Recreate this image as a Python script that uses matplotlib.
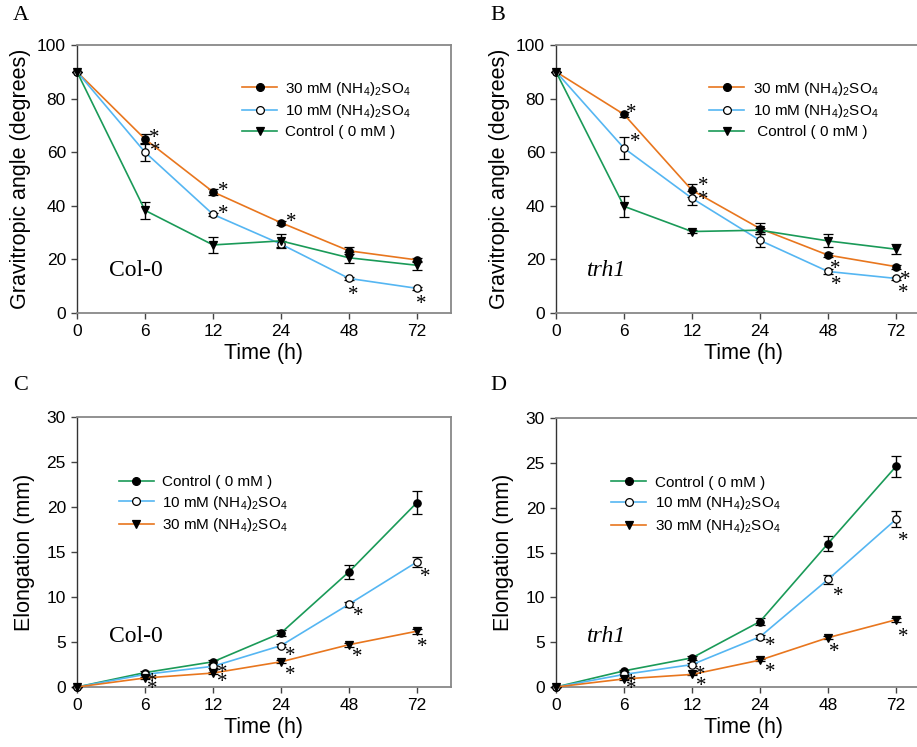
import matplotlib
matplotlib.use("Agg")
import matplotlib.pyplot as plt
from matplotlib.lines import Line2D

plt.rcParams['font.family'] = ['Liberation Sans', 'DejaVu Sans']
plt.rcParams['mathtext.fontset'] = 'custom'
plt.rcParams['mathtext.rm'] = 'Liberation Sans'
plt.rcParams['mathtext.it'] = 'Liberation Sans:italic'
plt.rcParams['mathtext.bf'] = 'Liberation Sans:bold'

# ---------------- data ----------------
time_labels = ['0', '6', '12', '24', '48', '72']
x_idx = list(range(len(time_labels)))

# Panel A: Col-0 gravitropic angle
A_30 = [90, 64.9, 45.2, 33.7, 23.2, 19.8]
A_30_err = [0, 2.0, 1.0, 0.8, 1.3, 0.8]
A_10 = [90, 60.0, 36.8, 25.7, 12.9, 9.2]
A_10_err = [0, 3.3, 0.6, 1.3, 0.5, 0.5]
A_ctrl = [90, 38.3, 25.4, 26.9, 20.6, 17.8]
A_ctrl_err = [0, 3.1, 3.0, 2.4, 2.0, 1.7]

# Panel B: trh1 gravitropic angle
B_30 = [90, 74.1, 45.8, 31.5, 21.6, 17.3]
B_30_err = [0, 1.0, 2.5, 2.2, 0.7, 0.7]
B_10 = [90, 61.5, 42.8, 27.1, 15.5, 12.9]
B_10_err = [0, 4.1, 2.6, 2.4, 1.0, 0.5]
B_ctrl = [90, 39.8, 30.4, 30.9, 26.9, 23.8]
B_ctrl_err = [0, 4.0, 0.7, 0.7, 2.4, 1.9]

# Panel C: Col-0 elongation
C_ctrl = [0, 1.6, 2.8, 6.0, 12.8, 20.5]
C_ctrl_err = [0, 0.15, 0.2, 0.35, 0.8, 1.25]
C_10 = [0, 1.4, 2.3, 4.6, 9.2, 13.9]
C_10_err = [0, 0.1, 0.15, 0.2, 0.3, 0.55]
C_30 = [0, 1.0, 1.55, 2.8, 4.7, 6.2]
C_30_err = [0, 0.1, 0.1, 0.15, 0.2, 0.3]

# Panel D: trh1 elongation
D_ctrl = [0, 1.8, 3.25, 7.3, 16.0, 24.6]
D_ctrl_err = [0, 0.15, 0.25, 0.4, 0.8, 1.2]
D_10 = [0, 1.4, 2.5, 5.6, 12.0, 18.7]
D_10_err = [0, 0.1, 0.15, 0.2, 0.5, 0.9]
D_30 = [0, 0.9, 1.4, 3.0, 5.5, 7.5]
D_30_err = [0, 0.1, 0.1, 0.15, 0.2, 0.25]

lab30 = r'30 mM (NH$_4$)$_2$SO$_4$'
lab10 = r'10 mM (NH$_4$)$_2$SO$_4$'
labctrl = 'Control ( 0 mM )'
labctrl_b = ' Control ( 0 mM )'

ORANGE = '#E8761E'
BLUE = '#55B6F2'
GREEN = '#1A9A58'

# asterisk offsets (series, x index, dx px, dy px)
stars_A = [('30', 1, 9.3, 6.7), ('10', 1, 10, 7), ('30', 2, 10, 6.3), ('10', 2, 10, 6),
           ('30', 3, 10, 5.7), ('10', 4, 4, -11.3), ('10', 5, 4, -10.7)]
stars_B = [('30', 1, 7.7, 7), ('10', 1, 11, 11.3), ('30', 2, 11, 10), ('10', 2, 11, 3.3),
           ('30', 4, 7.3, -8.3), ('10', 4, 8.3, -7.7), ('30', 5, 9.3, -7.7), ('10', 5, 7.7, -9)]
stars_C = [('10', 1, 7.7, -2), ('30', 1, 7.7, -5.7), ('10', 2, 9, -1), ('30', 2, 9, -4),
           ('10', 3, 9, -5), ('30', 3, 9, -7.3), ('10', 4, 9, -6), ('30', 4, 8.3, -6.7),
           ('10', 5, 8.3, -10), ('30', 5, 5, -10)]
stars_D = [('10', 1, 7.7, -3.3), ('30', 1, 7.7, -4.3), ('10', 2, 8.3, -5), ('30', 2, 9, -6),
           ('10', 3, 10, -4), ('30', 3, 10, -6.7), ('10', 4, 10.7, -10.7), ('30', 4, 6.3, -9),
           ('10', 5, 7.7, -16.7), ('30', 5, 7, -12.3)]

W, H = 917, 747
fig = plt.figure(figsize=(W / 100, H / 100), dpi=100)

def frac(left, top, right, bottom):
    return [left / W, 1 - bottom / H, (right - left) / W, (bottom - top) / H]

axA = fig.add_axes(frac(77, 45, 451, 313))
axB = fig.add_axes(frac(556, 45, 930, 313))
axC = fig.add_axes(frac(77, 417, 451, 687))
axD = fig.add_axes(frac(556, 418, 930, 687))

PX = 0.72  # points per pixel at 100 dpi
STAR_FS = 15
MS = {'o': 5.3, 'v': 5.8}

def style(ax, ylim, yticks, ylabel, labelpad):
    ax.set_xlim(0, 5.5)
    ax.set_ylim(*ylim)
    ax.set_xticks(x_idx)
    ax.set_xticklabels(time_labels)
    ax.set_yticks(yticks)
    ax.tick_params(direction='out', length=4, width=1, labelsize=12.5, pad=4, color='#444444')
    ax.set_xlabel('Time (h)', fontsize=15.5, labelpad=3)
    ax.set_ylabel(ylabel, fontsize=15.5, labelpad=labelpad)
    for s in ['top', 'right', 'bottom']:
        ax.spines[s].set_color('#888888')
        ax.spines[s].set_linewidth(1.3)
    ax.spines['left'].set_color('#333333')
    ax.spines['left'].set_linewidth(1.0)

def series(ax, y, err, color, marker, mfc, label):
    ax.errorbar(x_idx, y, yerr=err, color=color, lw=1.2, marker=marker, ms=MS[marker],
                mfc=mfc, mec='black', mew=0.9, ecolor='black', elinewidth=1.0, capsize=3.5,
                capthick=1.0, clip_on=False, zorder=3)
    return Line2D([], [], color=color, lw=1.2, marker=marker, ms=MS[marker] + 0.3,
                  mfc=mfc, mec='black', mew=0.9, label=label)

def stars(ax, data, spec):
    for key, i, dx, dy in spec:
        ax.annotate('*', xy=(x_idx[i], data[key][i]), xytext=(dx * PX, dy * PX - 0.5 * STAR_FS),
                    textcoords='offset points', ha='center', va='baseline',
                    fontsize=STAR_FS, family='Liberation Serif', annotation_clip=False, zorder=4)

def legend(ax, handles, x, y):
    return ax.legend(handles=handles, loc='upper left', bbox_to_anchor=(x, y), frameon=False,
                     fontsize=11, borderpad=0, borderaxespad=0, handlelength=2.3,
                     handletextpad=0.55, labelspacing=0.3)

# Panel A
hA = [series(axA, A_30, A_30_err, ORANGE, 'o', 'black', lab30),
      series(axA, A_10, A_10_err, BLUE, 'o', 'white', lab10),
      series(axA, A_ctrl, A_ctrl_err, GREEN, 'v', 'black', labctrl)]
style(axA, (0, 100), [0, 20, 40, 60, 80, 100], 'Gravitropic angle (degrees)', 4)
stars(axA, {'30': A_30, '10': A_10}, stars_A)
legend(axA, hA, 0.441, 0.87)
axA.text(0.47, 15.7, 'Col-0', fontsize=17, family='Liberation Serif', va='center', ha='left')

# Panel B
hB = [series(axB, B_30, B_30_err, ORANGE, 'o', 'black', lab30),
      series(axB, B_10, B_10_err, BLUE, 'o', 'white', lab10),
      series(axB, B_ctrl, B_ctrl_err, GREEN, 'v', 'black', labctrl_b)]
style(axB, (0, 100), [0, 20, 40, 60, 80, 100], 'Gravitropic angle (degrees)', 4)
stars(axB, {'30': B_30, '10': B_10}, stars_B)
legend(axB, hB, 0.41, 0.87)
axB.text(0.46, 16, 'trh1', fontsize=17, family='Liberation Serif', style='italic', va='center', ha='left')

# Panel C
hC = [series(axC, C_ctrl, C_ctrl_err, GREEN, 'o', 'black', labctrl),
      series(axC, C_10, C_10_err, BLUE, 'o', 'white', lab10),
      series(axC, C_30, C_30_err, ORANGE, 'v', 'black', lab30)]
style(axC, (0, 30), [0, 5, 10, 15, 20, 25, 30], 'Elongation (mm)', 8)
stars(axC, {'10': C_10, '30': C_30}, stars_C)
legend(axC, hC, 0.112, 0.785)
axC.text(0.47, 5.6, 'Col-0', fontsize=17, family='Liberation Serif', va='center', ha='left')

# Panel D
hD = [series(axD, D_ctrl, D_ctrl_err, GREEN, 'o', 'black', labctrl),
      series(axD, D_10, D_10_err, BLUE, 'o', 'white', lab10),
      series(axD, D_30, D_30_err, ORANGE, 'v', 'black', lab30)]
style(axD, (0, 30), [0, 5, 10, 15, 20, 25, 30], 'Elongation (mm)', 8)
stars(axD, {'10': D_10, '30': D_30}, stars_D)
legend(axD, hD, 0.147, 0.785)
axD.text(0.46, 5.6, 'trh1', fontsize=17, family='Liberation Serif', style='italic', va='center', ha='left')

# panel letters
for letter, (px, py) in zip('ABCD', [(21, 16), (498, 16), (21, 386), (498, 386)]):
    fig.text(px / W, 1 - py / H, letter, fontsize=16, family='Liberation Serif', ha='center', va='center')

fig.savefig('out.png', dpi=100)
